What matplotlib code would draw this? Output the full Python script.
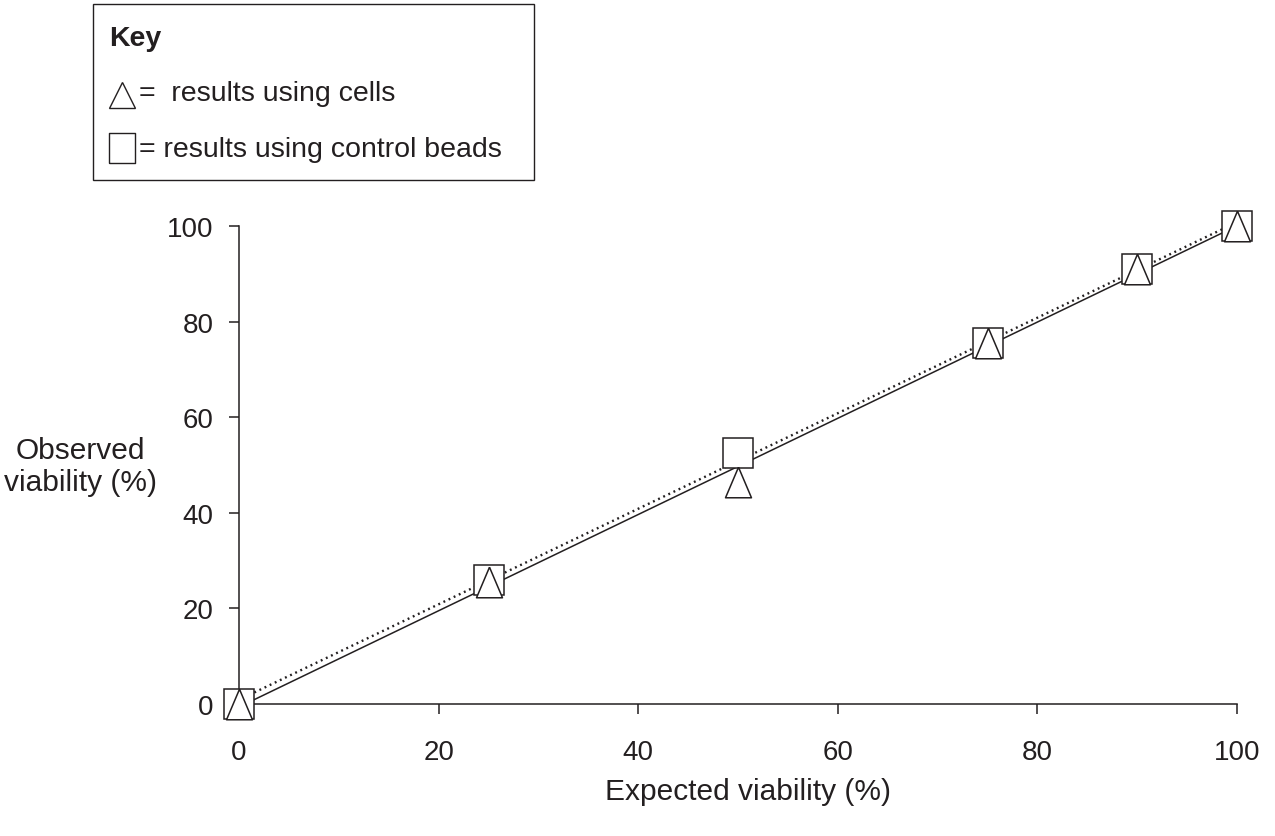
import numpy as np
import matplotlib
matplotlib.use('Agg')
import matplotlib.pyplot as plt
from matplotlib.lines import Line2D
from matplotlib.patches import Rectangle

plt.rcParams['font.family'] = ['Liberation Sans', 'DejaVu Sans']

# datos ------------------------------------------------------------
expected = [0, 25, 50, 75, 90, 100]
cells = [0, 25.5, 46.5, 75.5, 91, 100]     # triangulos
beads = [0, 26, 52.5, 75.5, 91, 100]       # cuadrados
xticks = [0, 20, 40, 60, 80, 100]
yticks = [0, 20, 40, 60, 80, 100]

ink = '#231f20'
fs_tick = 20
fs_label = 21.5
fs_key = 20.5

fig = plt.figure(figsize=(12.75, 8.37), dpi=100)
W, H = 1275, 837
ax = fig.add_axes([239 / W, 1 - 705 / H, (1237 - 239) / W, (705 - 227) / H])

# lineas de tendencia
xs = np.array([0, 100])
m_c, b_c = np.polyfit(expected, cells, 1)
m_b, b_b = np.polyfit(expected, beads, 1)
ax.plot(xs, m_c * xs + b_c, color=ink, lw=1.1, zorder=2, clip_on=False)
ax.plot(xs, m_b * xs + b_b, color=ink, lw=1.7, linestyle=(0, (0.8, 1.6)),
        zorder=2, clip_on=False)

# marcadores
tri = [(0, 1), (-0.85, -1), (0.85, -1), (0, 1)]
ax.plot(expected, beads, linestyle='none', marker='s', ms=21, mfc='white',
        mec=ink, mew=1.1, zorder=3, clip_on=False)
ax.plot(expected, cells, linestyle='none', marker=tri, ms=22, mfc='white',
        mec=ink, mew=1.1, zorder=4, clip_on=False)

ax.set_xlim(0, 100)
ax.set_ylim(0, 100)
ax.set_xticks(xticks)
ax.set_yticks(yticks)
ax.spines['top'].set_visible(False)
ax.spines['right'].set_visible(False)
for s in ['left', 'bottom']:
    ax.spines[s].set_color(ink)
    ax.spines[s].set_linewidth(1.1)
ax.tick_params(axis='x', direction='out', length=7.5, width=1.1, color=ink,
               labelsize=fs_tick, labelcolor=ink, pad=18)
ax.tick_params(axis='y', direction='out', length=7.5, width=1.1, color=ink,
               labelsize=fs_tick, labelcolor=ink, pad=11)

fig.text(80 / W, 1 - 467 / H, 'Observed\nviability (%)', fontsize=fs_label,
         color=ink, ha='center', va='center', linespacing=1.2)
fig.text(748 / W, 1 - 792 / H, 'Expected viability (%)', fontsize=fs_label,
         color=ink, ha='center', va='center')

# caja "Key"
fig.add_artist(Rectangle((93 / W, 1 - 181 / H), (534 - 93) / W, (181 - 5) / H,
                         transform=fig.transFigure, fill=False, ec=ink, lw=1.0))
fig.text(109 / W, 1 - 39 / H, 'Key', fontsize=fs_key, fontweight='bold',
         color=ink, ha='left', va='center')
fig.add_artist(Line2D([122 / W], [1 - 96 / H], transform=fig.transFigure,
                      marker='^', ms=19, mfc='white', mec=ink, mew=1.0))
fig.add_artist(Line2D([122 / W], [1 - 149 / H], transform=fig.transFigure,
                      marker=[(-0.87, -1), (0.87, -1), (0.87, 1), (-0.87, 1),
                              (-0.87, -1)],
                      ms=22, mfc='white', mec=ink, mew=1.0))
fig.text(139 / W, 1 - 94 / H, '=  results using cells', fontsize=fs_key,
         color=ink, ha='left', va='center')
fig.text(139 / W, 1 - 150 / H, '= results using control beads',
         fontsize=fs_key, color=ink, ha='left', va='center')

fig.savefig('out.png', dpi=100, facecolor='white')
